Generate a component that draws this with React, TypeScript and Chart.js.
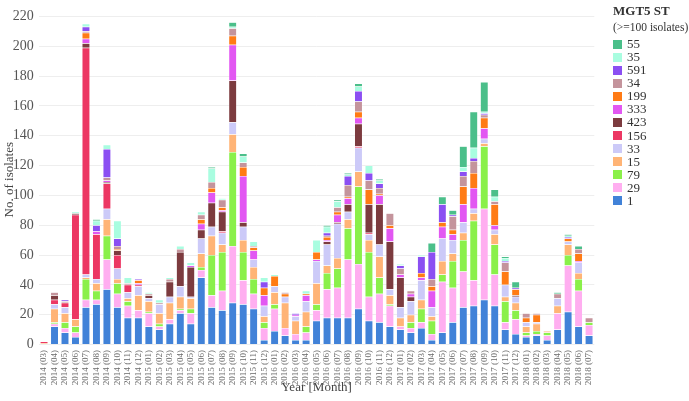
import React, { useEffect, useRef } from "react";
import { Chart, registerables } from "chart.js";

Chart.register(...registerables);

const categories = [
  "2014 (03)", "2014 (04)", "2014 (05)", "2014 (06)", "2014 (07)", "2014 (08)", "2014 (09)", "2014 (10)", "2014 (11)", "2014 (12)",
  "2015 (01)", "2015 (02)", "2015 (03)", "2015 (04)", "2015 (05)", "2015 (06)", "2015 (07)", "2015 (08)", "2015 (09)", "2015 (10)", "2015 (11)", "2015 (12)",
  "2016 (01)", "2016 (02)", "2016 (03)", "2016 (04)", "2016 (05)", "2016 (06)", "2016 (07)", "2016 (08)", "2016 (09)", "2016 (10)", "2016 (11)", "2016 (12)",
  "2017 (01)", "2017 (02)", "2017 (03)", "2017 (04)", "2017 (05)", "2017 (06)", "2017 (07)", "2017 (08)", "2017 (09)", "2017 (10)", "2017 (11)", "2017 (12)",
  "2018 (01)", "2018 (02)", "2018 (03)", "2018 (04)", "2018 (05)", "2018 (06)", "2018 (07)",
];

// Series values (stacking order bottom -> top)
const st1 = [0, 12, 8, 5, 25, 27, 37, 25, 18, 18, 12, 10, 14, 21, 14, 45, 25, 23, 28, 27, 24, 3, 9, 6, 3, 3, 16, 18, 18, 18, 24, 16, 15, 12, 10, 8, 11, 3, 8, 15, 25, 26, 30, 26, 10, 7, 5, 6, 3, 10, 22, 12, 6];
const st29 = [0, 2, 3, 3, 5, 3, 20, 9, 8, 5, 9, 2, 3, 2, 7, 5, 8, 13, 38, 16, 10, 8, 15, 5, 4, 5, 7, 19, 20, 39, 30, 16, 19, 14, 2, 3, 4, 4, 34, 23, 24, 17, 61, 21, 5, 10, 1, 1, 3, 11, 31, 24, 7];
const st79 = [0, 1, 4, 4, 14, 6, 16, 7, 3, 0, 1, 2, 0, 1, 3, 2, 27, 26, 63, 19, 10, 4, 3, 0, 0, 4, 4, 11, 13, 21, 52, 30, 11, 1, 0, 4, 9, 9, 5, 18, 21, 40, 42, 20, 14, 6, 2, 2, 2, 0, 7, 8, 2];
const st15 = [1, 9, 6, 5, 1, 5, 11, 3, 2, 10, 7, 7, 11, 8, 7, 9, 13, 5, 12, 8, 8, 4, 8, 17, 9, 10, 14, 5, 7, 6, 10, 8, 14, 6, 6, 5, 6, 3, 9, 5, 5, 5, 2, 7, 3, 5, 4, 5, 1, 5, 7, 4, 0];
const st33 = [0, 3, 4, 0, 2, 3, 7, 7, 4, 6, 2, 6, 4, 7, 1, 10, 6, 8, 8, 9, 5, 7, 4, 4, 3, 7, 15, 14, 23, 5, 16, 4, 8, 4, 7, 9, 13, 6, 15, 9, 7, 3, 3, 3, 8, 4, 3, 1, 0, 5, 2, 7, 0];
const st156 = [1, 3, 3, 70, 152, 30, 17, 9, 5, 1, 0, 0, 0, 0, 0, 0, 0, 1, 0, 0, 0, 0, 0, 0, 0, 0, 0, 0, 0, 0, 1, 1, 0, 0, 0, 0, 0, 0, 0, 0, 0, 0, 0, 0, 0, 0, 0, 0, 0, 0, 0, 0, 0];
const st423 = [0, 3, 0, 1, 3, 0, 1, 3, 0, 0, 2, 0, 10, 23, 20, 6, 16, 13, 28, 3, 0, 0, 0, 0, 0, 0, 0, 2, 1, 5, 15, 19, 27, 32, 20, 3, 0, 0, 0, 0, 0, 0, 0, 0, 0, 1, 0, 0, 0, 0, 0, 0, 0];
const st333 = [0, 0, 0, 0, 3, 2, 1, 0, 0, 1, 0, 0, 0, 0, 1, 4, 7, 1, 24, 31, 6, 7, 0, 0, 1, 4, 1, 1, 5, 4, 4, 0, 6, 9, 2, 2, 2, 11, 8, 4, 12, 14, 7, 3, 0, 0, 0, 0, 0, 0, 0, 1, 0];
const st199 = [0, 0, 0, 0, 4, 0, 0, 1, 0, 2, 0, 0, 0, 0, 0, 3, 3, 2, 6, 6, 2, 5, 7, 2, 0, 1, 5, 2, 2, 1, 4, 10, 1, 2, 0, 0, 3, 3, 3, 3, 12, 10, 7, 14, 9, 4, 3, 5, 0, 0, 2, 5, 0];
const st34 = [0, 2, 1, 0, 1, 0, 2, 2, 1, 0, 1, 1, 2, 2, 0, 3, 4, 5, 5, 3, 1, 0, 0, 1, 0, 0, 0, 1, 3, 8, 7, 6, 4, 8, 4, 2, 0, 5, 0, 9, 7, 8, 2, 2, 6, 0, 3, 1, 0, 3, 0, 3, 3];
const st591 = [0, 0, 1, 0, 3, 4, 19, 5, 0, 1, 0, 0, 0, 0, 0, 0, 0, 0, 0, 0, 0, 4, 0, 0, 1, 0, 0, 2, 0, 6, 7, 5, 3, 0, 2, 0, 11, 18, 12, 1, 3, 2, 1, 0, 1, 1, 0, 0, 0, 0, 1, 0, 0];
const st35 = [0, 0, 0, 1, 2, 3, 3, 12, 4, 0, 1, 2, 1, 2, 2, 2, 9, 1, 1, 4, 3, 3, 1, 0, 0, 2, 8, 4, 4, 1, 3, 5, 2, 0, 1, 0, 1, 0, 0, 0, 3, 7, 1, 3, 2, 0, 0, 0, 0, 0, 1, 0, 0];
const st55 = [0, 0, 0, 0, 0, 1, 0, 0, 0, 0, 0, 0, 0, 0, 0, 0, 1, 0, 3, 2, 0, 0, 0, 0, 0, 0, 0, 1, 1, 1, 2, 0, 1, 0, 0, 0, 0, 6, 5, 3, 14, 24, 20, 5, 1, 4, 0, 0, 0, 1, 1, 2, 0];

const seriesNames = ["1", "29", "79", "15", "33", "156", "423", "333", "199", "34", "591", "35", "55"];
const seriesValues = [st1, st29, st79, st15, st33, st156, st423, st333, st199, st34, st591, st35, st55];
const seriesColors = [
  "#4182d8", "#ffaef0", "#8af04a", "#ffb476", "#cccaf8", "#ec3763", "#7c3b3f",
  "#e257f2", "#ff7b15", "#c4949c", "#8b4ff2", "#a9fde0", "#4bbf8a",
];

const yTicks = [0, 20, 40, 60, 80, 100, 120, 140, 160, 180, 200, 220];

const FONT = "'Liberation Serif', 'Times New Roman', serif";

export default function App() {
  const canvasRef = useRef<HTMLCanvasElement | null>(null);

  useEffect(() => {
    document.body.style.margin = "0";
    const canvas = canvasRef.current;
    if (!canvas) return;
    const chart = new Chart(canvas, {
      type: "bar",
      data: {
        labels: categories,
        datasets: seriesNames.map((name, i) => ({
          label: name,
          data: seriesValues[i],
          backgroundColor: seriesColors[i],
          borderColor: "rgba(255,255,255,0.55)",
          borderWidth: 0.5,
          barPercentage: 0.76,
          categoryPercentage: 1,
        })),
      },
      options: {
        animation: false,
        responsive: false,
        maintainAspectRatio: false,
        layout: { padding: { left: 0, right: 94.7, top: 7.5, bottom: 0 } },
        plugins: { legend: { display: false }, tooltip: { enabled: false } },
        scales: {
          x: {
            stacked: true,
            grid: { display: false, drawTicks: false },
            border: { display: false },
            ticks: {
              autoSkip: false,
              minRotation: 90,
              maxRotation: 90,
              padding: 4,
              color: "#6a6a6a",
              font: { family: FONT, size: 9 },
            },
            title: {
              display: true,
              text: "Year [Month]",
              color: "#444",
              font: { family: FONT, size: 13 },
              padding: { top: 0, bottom: 6 },
            },
            afterFit: (s: any) => {
              s.height = 55;
            },
          },
          y: {
            stacked: true,
            min: -1,
            max: 222,
            grid: { color: "#eeeeee", drawTicks: false, lineWidth: 1 },
            border: { display: false },
            afterBuildTicks: (axis: any) => {
              axis.ticks = yTicks.map((v) => ({ value: v }));
            },
            ticks: {
              padding: 5,
              color: "#555",
              font: { family: FONT, size: 14 },
            },
            title: {
              display: true,
              text: "No. of isolates",
              color: "#444",
              font: { family: FONT, size: 13 },
              padding: { top: 2, bottom: 0 },
            },
            afterFit: (s: any) => {
              s.width = 38.8;
            },
          },
        },
      },
    });
    return () => chart.destroy();
  }, []);

  const legendItems = [...seriesNames].reverse().map((n, i) => ({
    name: n,
    color: seriesColors[seriesNames.length - 1 - i],
  }));

  return (
    <div style={{ position: "relative", width: 689, height: 401, fontFamily: FONT }}>
      <canvas ref={canvasRef} width={689} height={401} style={{ display: "block" }} />
      <div style={{ position: "absolute", left: 612, top: 0, width: 77, height: 230, color: "#333", whiteSpace: "nowrap", overflow: "hidden" }}>
        <div style={{ position: "absolute", left: 1, top: 3, fontWeight: "bold", fontSize: 13, lineHeight: "16px" }}>MGT5 ST</div>
        <div style={{ position: "absolute", left: 1, top: 19, fontSize: 11.5, lineHeight: "16px" }}>(&gt;=100 isolates)</div>
        {legendItems.map((it, i) => (
          <div key={it.name} style={{ position: "absolute", left: 1, top: 37 + i * 13.08, height: 14, display: "flex", alignItems: "center" }}>
            <span style={{ display: "inline-block", width: 9, height: 9, background: it.color, marginRight: 5 }} />
            <span style={{ fontSize: 13, lineHeight: "14px" }}>{it.name}</span>
          </div>
        ))}
      </div>
    </div>
  );
}
